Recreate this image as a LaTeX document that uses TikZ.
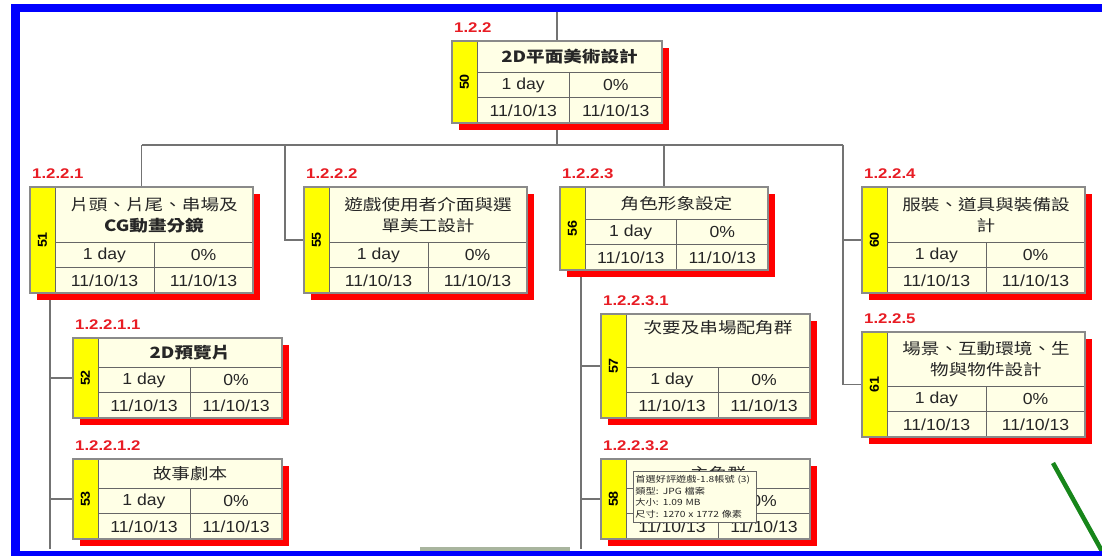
\documentclass[tikz,border=0pt]{standalone}
\usepackage{fontspec}
\setmainfont{Liberation Sans}
\newfontfamily\cjk[FakeStretch=1.2]{Noto Sans CJK TC}
\newfontfamily\lat[FakeStretch=1.1]{Liberation Sans}
\newfontfamily\labf[FakeStretch=1.2]{Liberation Sans}
\pgfdeclarelayer{back}
\pgfdeclarelayer{bg}
\pgfsetlayers{back,bg,main}
\definecolor{framblue}{HTML}{0000FF}
\definecolor{shadowred}{HTML}{FF0000}
\definecolor{idyellow}{HTML}{FFFF00}
\definecolor{cream}{HTML}{FFFFE6}
\definecolor{boxgray}{HTML}{8A8A8A}
\definecolor{gridgray}{HTML}{666666}
\definecolor{conngray}{HTML}{737373}
\definecolor{labred}{HTML}{E81C24}
\definecolor{txtgray}{HTML}{262626}
\definecolor{greenl}{HTML}{17861A}
\definecolor{barg}{HTML}{A9B59E}
\tikzset{
  wbsbox/.style={draw=none,fill=cream,inner sep=0pt,outer sep=0pt},
  gridl/.style={draw=gridgray,line width=0.9pt},
  framel/.style={draw=boxgray,line width=1.1pt},
  idtext/.style={rotate=90,font=\lat\bfseries\fontsize{13}{14}\selectfont,text=black,inner sep=0pt},
  titletext/.style={align=center,font=\cjk\fontsize{15.5}{21}\selectfont,text=txtgray,inner sep=0pt},
  datatext/.style={font=\lat\fontsize{16}{18}\selectfont,text=txtgray,inner sep=0pt},
  labeltext/.style={anchor=west,font=\labf\bfseries\fontsize{14}{16}\selectfont,text=labred,inner sep=0pt},
  conn/.style={draw=conngray,line width=1.3pt},
  tip/.style={draw=gridgray,fill=cream,line width=0.8pt,anchor=north west,inner sep=2pt,
    text width=119pt,minimum height=51pt,align=left,font=\cjk\fontsize{8.5}{11.5}\selectfont,text=txtgray}
}
\newcommand\wbs[8]{%
  \pgfmathsetmacro\xl{#2}%
  \pgfmathsetmacro\yt{#3}%
  \pgfmathsetmacro\xr{#4}%
  \pgfmathsetmacro\yh{#5}%
  \pgfmathsetmacro\yb{\yh+51}%
  \pgfmathsetmacro\ym{\yh+25.5}%
  \pgfmathsetmacro\xs{\xl+25}%
  \pgfmathsetmacro\xd{(\xs+\xr)/2}%
  \pgfmathsetmacro\bw{\xr-\xl}%
  \pgfmathsetmacro\bh{\yb-\yt}%
  \fill[shadowred] (\xl+7,\yt+7) rectangle (\xr+7,\yb+7);
  \node[wbsbox,minimum width=\bw pt,minimum height=\bh pt] (#1) at ({(\xl+\xr)/2},{(\yt+\yb)/2}) {};
  \fill[idyellow] (\xl,\yt) rectangle (\xs,\yb);
  \draw[gridl] (\xs,\yt) -- (\xs,\yb) (\xs,\yh) -- (\xr,\yh) (\xs,\ym) -- (\xr,\ym) (\xd,\yh) -- (\xd,\yb);
  \draw[framel] (\xl,\yt) rectangle (\xr,\yb);
  \node[idtext] (#1i) at ({\xl+12.5},{(\yt+\yb)/2}) {#6};
  \node[titletext] (#1t) at ({(\xs+\xr)/2},{(\yt+\yh)/2+0.5}) {#7};
  \node[datatext] (#1a) at ({(\xs+\xd)/2},{(\yh+\ym)/2+0.5}) {1 day};
  \node[datatext] (#1b) at ({(\xd+\xr)/2},{(\yh+\ym)/2+0.5}) {0\%};
  \node[datatext] (#1c) at ({(\xs+\xd)/2},{(\ym+\yb)/2+0.5}) {11/10/13};
  \node[datatext] (#1d) at ({(\xd+\xr)/2},{(\ym+\yb)/2+0.5}) {11/10/13};
  \node[labeltext] (#1l) at ({\xl+2},{\yt-13}) {#8};
}
\begin{document}
\begin{tikzpicture}[x=1pt,y=-1pt]
\useasboundingbox (0,0) rectangle (1102,556);
\begin{pgfonlayer}{back}
\fill[white] (0,0) rectangle (1102,556);
\end{pgfonlayer}

\wbs{n50}{452}{41}{662}{72}{50}{\bfseries 2D平面美術設計}{1.2.2}
\wbs{n51}{30}{187}{253}{242}{51}{片頭、片尾、串場及\\\bfseries CG動畫分鏡}{1.2.2.1}
\wbs{n55}{304}{187}{527}{242}{55}{遊戲使用者介面與選\\單美工設計}{1.2.2.2}
\wbs{n56}{560}{187}{768}{219}{56}{角色形象設定}{1.2.2.3}
\wbs{n60}{862}{187}{1085}{242}{60}{服裝、道具與裝備設\\計}{1.2.2.4}
\wbs{n61}{862}{332}{1085}{386}{61}{場景、互動環境、生\\物與物件設計}{1.2.2.5}
\wbs{n52}{73}{338}{282}{367}{52}{\bfseries 2D預覽片}{1.2.2.1.1}
\wbs{n53}{73}{459}{282}{488}{53}{故事劇本}{1.2.2.1.2}
\wbs{n57}{601}{314}{810}{367}{57}{次要及串場配角群\\\strut}{1.2.2.3.1}
\wbs{n58}{601}{459}{810}{488}{58}{主角群}{1.2.2.3.2}

\node[tip] (tip) at (633,471) {首選好評遊戲-1.8帳號 (3)\\類型: JPG 檔案\\大小: 1.09 MB\\尺寸: 1270 x 1772 像素};

\coordinate (top) at (557,12);
\coordinate (busL) at (142,145);
\coordinate (busR) at (843,145);
\coordinate (c55) at (285,145);
\coordinate (s51) at (50,294);
\coordinate (e51) at (50,549);
\coordinate (s56) at (581,269);
\coordinate (e56) at (581,549);
\begin{pgfonlayer}{bg}
\draw[conn] (top) -- (n50.north);
\draw[conn] (n50.south) -- (n50.south |- busL);
\draw[conn] (busL) -- (busR);
\draw[conn] (n51.north |- busL) -- (n51.north);
\draw[conn] (c55) |- (n55.west);
\draw[conn] (n56.north |- busL) -- (n56.north);
\draw[conn] (busR) |- (n60.west);
\draw[conn] (busR) |- (n61.west);
\draw[conn] (s51) -- (e51);
\draw[conn] (s51) |- (n52.west);
\draw[conn] (s51) |- (n53.west);
\draw[conn] (s56) -- (e56);
\draw[conn] (s56) |- (n57.west);
\draw[conn] (s56) |- (n58.west);
\end{pgfonlayer}

\coordinate (g1) at (1053,463);
\coordinate (g2) at (1103,553);
\draw[greenl,line width=4.5pt] (g1) -- (g2);
\fill[barg] (420,546.5) rectangle (570,552);
\fill[framblue] (11,4) rectangle (1102,12.5);
\fill[framblue] (11,4) rectangle (19.5,556);
\fill[framblue] (11,551) rectangle (1102,556);
\end{tikzpicture}
\end{document}
